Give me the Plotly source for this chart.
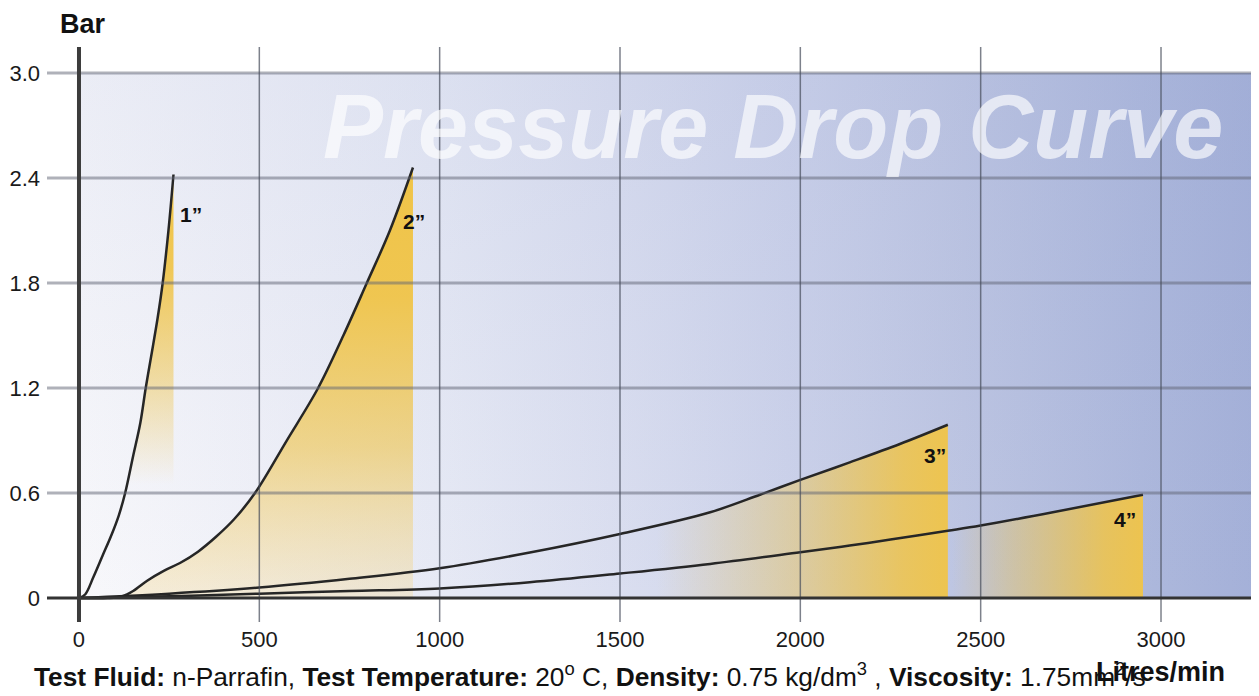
import plotly.graph_objects as go

# ---------------- data ----------------
x_ticks = [0, 500, 1000, 1500, 2000, 2500, 3000]
y_ticks = [0, 0.6, 1.2, 1.8, 2.4, 3.0]
y_tick_text = ["0", "0.6", "1.2", "1.8", "2.4", "3.0"]

c1_x = [0, 17, 40, 65, 90, 110, 128, 150, 170, 185, 200, 218, 232, 248, 262]
c1_y = [0, 0.02, 0.12, 0.24, 0.36, 0.47, 0.6, 0.81, 1.0, 1.2, 1.38, 1.6, 1.8, 2.1, 2.42]

c2_x = [0, 80, 120, 150, 190, 235, 280, 330, 380, 430, 488, 576, 663, 733, 798, 862, 926]
c2_y = [0, 0.0, 0.01, 0.04, 0.1, 0.155, 0.2, 0.265, 0.35, 0.45, 0.6, 0.9, 1.2, 1.5, 1.8, 2.1, 2.46]

c3_x = [0, 250, 500, 750, 1000, 1250, 1500, 1750, 1888, 2000, 2137, 2276, 2409]
c3_y = [0, 0.025, 0.06, 0.11, 0.17, 0.26, 0.366, 0.49, 0.59, 0.675, 0.775, 0.88, 0.99]

c4_x = [0, 250, 500, 750, 1000, 1250, 1500, 1750, 2000, 2137, 2250, 2409, 2500, 2700, 2950]
c4_y = [0, 0.01, 0.025, 0.04, 0.055, 0.09, 0.14, 0.195, 0.262, 0.3, 0.334, 0.384, 0.414, 0.49, 0.59]

labels = ["1\u201d", "2\u201d", "3\u201d", "4\u201d"]
label_x = [310, 929, 2373, 2900]
label_y = [2.194, 2.154, 0.817, 0.446]

# ---------------- styling ----------------
X_RANGE = [-88.7, 3271.7]
Y_RANGE = [-0.137, 3.1486]
FONT = "Liberation Sans, Arial, sans-serif"
GOLD = "240,196,72"

fig = go.Figure()

# background gradient panel (0..3.0 bar, axis origin to right edge)
bx = [0, X_RANGE[1], X_RANGE[1], 0, 0]
by = [0, 0, y_ticks[-1], y_ticks[-1], 0]
fig.add_trace(go.Scatter(
    x=bx, y=by, mode="none", fill="toself", hoverinfo="skip",
    fillgradient=dict(type="horizontal", start=0, stop=X_RANGE[1], colorscale=[
        [0.0, "#f8f8fb"], [0.15, "#f0f1f8"], [0.3, "#e7eaf5"], [0.45, "#dbdff0"],
        [0.6, "#ccd2ea"], [0.75, "#bdc5e2"], [0.9, "#adb8dc"], [1.0, "#a4b0d8"]]),
))
fig.add_trace(go.Scatter(
    x=bx, y=by, mode="none", fill="toself", hoverinfo="skip",
    fillgradient=dict(type="vertical", start=0, stop=y_ticks[-1], colorscale=[
        [0.0, "rgba(140,155,205,0)"], [1.0, "rgba(140,155,205,0.12)"]]),
))

# yellow fills
fills = [
    (c1_x, c1_y, "vertical", 0.65, c1_y[-1],
     [[0, f"rgba({GOLD},0)"], [0.35, f"rgba({GOLD},0.5)"], [0.7, f"rgba({GOLD},0.92)"], [1, f"rgba({GOLD},1)"]]),
    (c2_x, c2_y, "vertical", 0, c2_y[-1],
     [[0, "rgba(245,215,140,0.3)"], [0.35, f"rgba({GOLD},0.6)"], [0.7, f"rgba({GOLD},0.95)"], [1, f"rgba({GOLD},1)"]]),
    (c3_x, c3_y, "horizontal", 1600, c3_x[-1],
     [[0, f"rgba({GOLD},0)"], [0.5, f"rgba({GOLD},0.45)"], [0.85, f"rgba({GOLD},0.85)"], [1, f"rgba({GOLD},0.95)"]]),
    (c4_x, c4_y, "horizontal", 2420, c4_x[-1],
     [[0, f"rgba({GOLD},0)"], [0.3, f"rgba({GOLD},0.35)"], [0.8, f"rgba({GOLD},0.85)"], [1, f"rgba({GOLD},0.95)"]]),
]
for xs, ys, kind, s0, s1, cs in fills:
    fig.add_trace(go.Scatter(
        x=xs, y=ys, mode="none", fill="tozeroy", line_shape="spline", hoverinfo="skip",
        fillgradient=dict(type=kind, start=s0, stop=s1, colorscale=cs),
    ))

# curves
for xs, ys in [(c1_x, c1_y), (c2_x, c2_y), (c3_x, c3_y), (c4_x, c4_y)]:
    fig.add_trace(go.Scatter(
        x=xs, y=ys, mode="lines", line=dict(color="#262626", width=2.5, shape="spline"),
        hoverinfo="skip",
    ))

# grid lines (above fills) and axis lines
shapes = []
for yv in y_ticks[1:]:
    shapes.append(dict(type="line", xref="paper", x0=0, x1=1, yref="y", y0=yv, y1=yv,
                       line=dict(color="rgba(95,100,115,0.5)", width=3), layer="above"))
for xv in x_ticks[1:]:
    shapes.append(dict(type="line", xref="x", x0=xv, x1=xv, yref="paper", y0=0, y1=1,
                       line=dict(color="rgba(70,75,90,0.7)", width=1.5), layer="above"))
shapes.append(dict(type="line", xref="paper", x0=0, x1=1, yref="y", y0=0, y1=0,
                   line=dict(color="#333333", width=3), layer="above"))
shapes.append(dict(type="line", xref="x", x0=0, x1=0, yref="paper", y0=0, y1=1,
                   line=dict(color="#3c3c3c", width=4), layer="above"))

annotations = [
    dict(text="<b><i>Pressure Drop Curve</i></b>", x=1924, y=2.693, xref="x", yref="y",
         showarrow=False, xanchor="center", yanchor="middle",
         font=dict(family=FONT, size=90, color="rgba(255,255,255,0.65)")),
    dict(text="<b>Bar</b>", x=0.0297, y=1.04, xref="paper", yref="paper", showarrow=False,
         xanchor="center", yanchor="middle", font=dict(family=FONT, size=27, color="#111")),
    dict(text=("<b>Test Fluid:</b> n-Parrafin, <b>Test Temperature:</b> 20<sup>o</sup> C, "
               "<b>Density:</b> 0.75 kg/dm<sup>3</sup> , <b>Viscosity:</b> 1.75mm<sup>2</sup>/s"),
         x=-0.0124, y=-0.0922, xref="paper", yref="paper", showarrow=False,
         xanchor="left", yanchor="middle", font=dict(family=FONT, size=26.3, color="#111")),
    dict(text="<b>Litres/min</b>", x=0.9736, y=-0.0878, xref="paper", yref="paper", showarrow=False,
         xanchor="right", yanchor="middle", font=dict(family=FONT, size=27, color="#111")),
]
for t, lx, ly in zip(labels, label_x, label_y):
    annotations.append(dict(text=f"<b>{t}</b>", x=lx, y=ly, xref="x", yref="y", showarrow=False,
                            xanchor="center", yanchor="middle",
                            font=dict(family=FONT, size=21, color="#111")))

# page body has an 8px margin: size the figure so it fills the 1259x696 window exactly
fig.update_layout(
    width=1251, height=688,
    margin=dict(l=39, r=0, t=39, b=74),
    paper_bgcolor="white", plot_bgcolor="white",
    showlegend=False,
    shapes=shapes, annotations=annotations,
    xaxis=dict(range=X_RANGE, tickvals=x_ticks, ticktext=[str(v) for v in x_ticks],
               showgrid=False, zeroline=False, showline=False, ticks="",
               ticklabelstandoff=2,
               tickfont=dict(family=FONT, size=22, color="#1a1a1a")),
    yaxis=dict(range=Y_RANGE, tickvals=y_ticks, ticktext=y_tick_text,
               showgrid=False, zeroline=False, showline=False, ticks="",
               ticklabelstandoff=6,
               tickfont=dict(family=FONT, size=22, color="#1a1a1a")),
)

fig.write_html("out.html")
